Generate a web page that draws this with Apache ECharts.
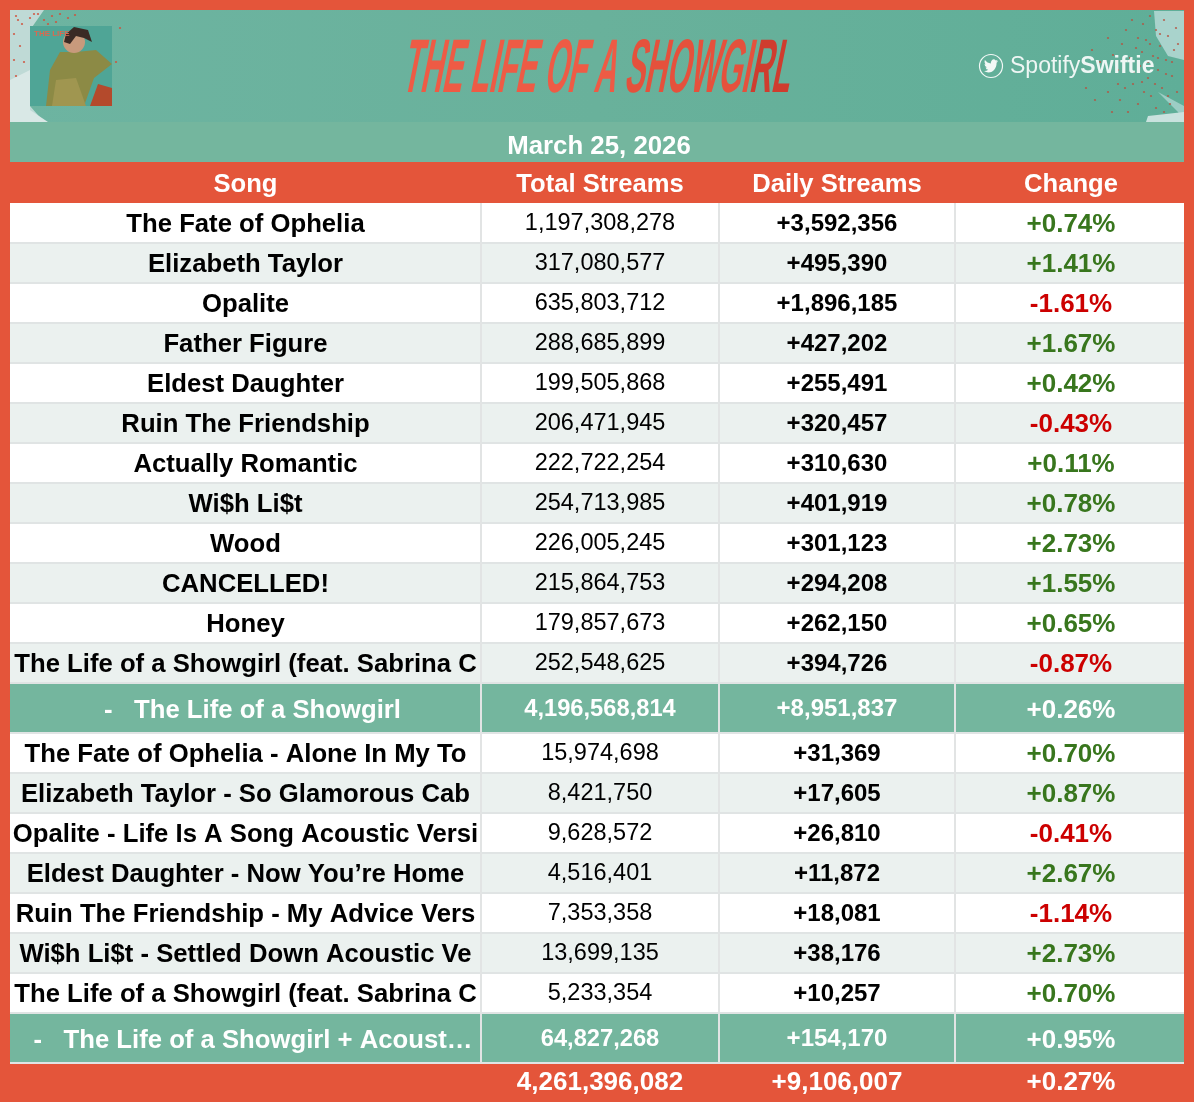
<!DOCTYPE html>
<html><head><meta charset="utf-8">
<style>html,body{margin:0;padding:0;background:#E4553A}#c{width:1194px;height:1102px}</style>
<script src="https://cdn.jsdelivr.net/npm/echarts@6/dist/echarts.min.js"></script>
</head><body><div id="c"></div>
<script>
const dateLabel = 'March 25, 2026';
const columnLabels = ['Song', 'Total Streams', 'Daily Streams', 'Change'];
const albumSongs = ['The Fate of Ophelia','Elizabeth Taylor','Opalite','Father Figure','Eldest Daughter','Ruin The Friendship','Actually Romantic','Wi$h Li$t','Wood','CANCELLED!','Honey','The Life of a Showgirl (feat. Sabrina C'];
const albumTotals = [1197308278,317080577,635803712,288685899,199505868,206471945,222722254,254713985,226005245,215864753,179857673,252548625];
const albumDaily = [3592356,495390,1896185,427202,255491,320457,310630,401919,301123,294208,262150,394726];
const albumChange = [0.74,1.41,-1.61,1.67,0.42,-0.43,0.11,0.78,2.73,1.55,0.65,-0.87];
const albumSummary = ['-   The Life of a Showgirl', 4196568814, 8951837, 0.26];
const acousticSongs = ['The Fate of Ophelia - Alone In My To','Elizabeth Taylor - So Glamorous Cab','Opalite - Life Is A Song Acoustic Versi','Eldest Daughter - Now You\u2019re Home','Ruin The Friendship - My Advice Vers','Wi$h Li$t - Settled Down Acoustic Ve','The Life of a Showgirl (feat. Sabrina C'];
const acousticTotals = [15974698,8421750,9628572,4516401,7353358,13699135,5233354];
const acousticDaily = [31369,17605,26810,11872,18081,38176,10257];
const acousticChange = [0.70,0.87,-0.41,2.67,-1.14,2.73,0.70];
const acousticSummary = ['-   The Life of a Showgirl + Acoust\u2026', 64827268, 154170, 0.95];
const grandSummary = ['', 4261396082, 9106007, 0.27];

const RED='#E4553A', TEAL='#74B69E', FONT='Liberation Sans';
const colEdges=[0,471,709,945,1174];
const fmtN=n=>n.toLocaleString('en-US');
const fmtD=n=>'+'+fmtN(n);
const fmtC=n=>(n>=0?'+':'-')+Math.abs(n).toFixed(2)+'%';

const rows=[]; let yy=0;
function addRow(h,cols){ rows.push({top:yy,h,cols}); yy+=h; }
const txt=(text,font,size,color,dy,dx)=>({text,font,size,color,dy:dy||0,dx:dx||0});
addRow(40,[{span:true,fill:TEAL,...txt(dateLabel,'bold',25.8,'#fff',3,2)}]);
addRow(41,columnLabels.map((l,i)=>txt(l,'bold',25.6,'#fff',1,i===3?1.5:0)));
function songRow(n,t,d,c,alt){
  const fill=alt?'#EBF1EF':'#FFFFFF';
  addRow(40,[
    {fill,line:true,...txt(n,'bold',25.7,'#000')},
    {fill,line:true,...txt(fmtN(t),'normal',23.5,'#000',-1)},
    {fill,line:true,...txt(fmtD(d),'bold',24,'#000')},
    {fill,line:true,...txt(fmtC(c),'bold',26,c>=0?'#38761D':'#CC0000',0,1.5)}
  ]);
}
function sumRow(s,dx){
  addRow(50,[
    {fill:TEAL,line:true,...txt(s[0],'bold',25.7,'#fff',1,dx)},
    {fill:TEAL,line:true,...txt(fmtN(s[1]),'bold',23.7,'#fff',0)},
    {fill:TEAL,line:true,...txt(fmtD(s[2]),'bold',24,'#fff',0)},
    {fill:TEAL,line:true,...txt(fmtC(s[3]),'bold',26,'#fff',1,1.5)}
  ]);
}
albumSongs.forEach((n,i)=>songRow(n,albumTotals[i],albumDaily[i],albumChange[i],i%2===1));
sumRow(albumSummary,7);
acousticSongs.forEach((n,i)=>songRow(n,acousticTotals[i],acousticDaily[i],acousticChange[i],i%2===1));
sumRow(acousticSummary,7.5);
addRow(39,[txt('','bold',26,'#fff'),txt(fmtN(grandSummary[1]),'bold',26,'#fff',-1),txt(fmtD(grandSummary[2]),'bold',26,'#fff',-1),txt(fmtC(grandSummary[3]),'bold',26,'#fff',-1,1.5)]);

const cells=[];
rows.forEach((r,ri)=>r.cols.forEach((c,ci)=>cells.push({ri,ci,c})));

function renderCell(params,api){
  const {ri,ci,c}=cells[params.dataIndex], r=rows[ri];
  const x0=colEdges[c.span?0:ci], x1=colEdges[c.span?4:ci+1];
  const p0=api.coord([x0,r.top]), p1=api.coord([x1,r.top+r.h]);
  const w=p1[0]-p0[0], h=p1[1]-p0[1], kids=[];
  if(c.fill) kids.push({type:'rect',shape:{x:p0[0],y:p0[1],width:w,height:h},style:{fill:c.fill}});
  if(c.line){
    kids.push({type:'rect',shape:{x:p0[0],y:p1[1]-1,width:w,height:2},style:{fill:'#E0E4E4'},z2:2});
    if(ci<3) kids.push({type:'rect',shape:{x:p1[0]-1,y:p0[1],width:2,height:h},style:{fill:'#E2E4E4'},z2:2});
  }
  if(c.text) kids.push({type:'text',z2:3,style:{text:c.text,x:(p0[0]+p1[0])/2+(c.dx||0),y:(p0[1]+p1[1])/2+(c.dy||0)+1.5,align:'center',verticalAlign:'middle',fill:c.color,fontFamily:FONT,fontWeight:c.font,fontSize:c.size}});
  return {type:'group',children:kids};
}
const BIRD='M23.953 4.57 a10 10 0 0 1 -2.825 .775 a4.958 4.958 0 0 0 2.163 -2.723 c-.951.555-2.005.959-3.127 1.184 a4.92 4.92 0 0 0 -8.384 4.482 C7.69 8.095 4.067 6.13 1.64 3.162 a4.822 4.822 0 0 0 -.666 2.475 c0 1.71.87 3.213 2.188 4.096 a4.904 4.904 0 0 1 -2.228 -.616 v.06 a4.923 4.923 0 0 0 3.946 4.827 a4.996 4.996 0 0 1 -2.212 .085 a4.936 4.936 0 0 0 4.604 3.417 a9.867 9.867 0 0 1 -6.102 2.105 c-.39 0-.779-.023-1.17-.067 a13.995 13.995 0 0 0 7.557 2.209 c9.053 0 13.998-7.496 13.998-13.985 0-.21 0-.42-.015-.63 A9.935 9.935 0 0 0 24 4.59z';
function renderBird(){
  return {type:'path',shape:{pathData:BIRD,x:984,y:59.5,width:14,height:13,layout:'cover'},style:{fill:'#F2F8F6'}};
}

const glitterR=[[1092,50],[1100,62],[1108,38],[1113,55],[1118,70],[1122,44],[1126,30],[1130,58],[1133,84],[1136,48],[1140,66],[1143,24],[1146,40],[1148,78],[1151,96],[1153,56],[1156,30],[1158,70],[1160,46],[1162,88],[1164,20],[1166,60],[1168,36],[1170,104],[1172,76],[1174,50],[1176,28],[1177,92],[1120,100],[1128,112],[1138,104],[1144,92],[1156,108],[1164,112],[1108,92],[1095,100],[1086,88],[1150,16],[1132,20],[1112,112],[1142,52],[1148,62],[1138,38],[1150,44],[1158,58],[1166,74],[1172,62],[1178,44],[1134,72],[1125,88],[1142,82],[1155,84],[1168,96],[1118,84],[1160,34]];
const glitterL=[[16,16],[22,24],[30,18],[38,14],[44,20],[52,16],[60,14],[68,18],[75,15],[14,34],[20,46],[14,60],[24,62],[16,76],[18,20],[120,28],[116,62],[34,14],[48,24],[56,22]];
const dots=(list,fill,o)=>list.map(p=>({type:'circle',silent:true,shape:{cx:p[0],cy:p[1],r:1.1},style:{fill,opacity:o}}));
const titleRich=fill=>({fontFamily:FONT,fontWeight:'bold',fontSize:76,fill});

const graphic=[
 {type:'rect',silent:true,shape:{x:10,y:10,width:1174,height:112},style:{fill:{type:'linear',x:0,y:0,x2:1,y2:0,colorStops:[{offset:0,color:'#6DB4A1'},{offset:.5,color:'#69B19B'},{offset:1,color:'#5FAE98'}]}}},
 {type:'polygon',silent:true,shape:{points:[[10,10],[44,10],[30,30],[30,106],[44,122],[10,122]]},style:{fill:'#BFDAD6'}},
 {type:'polygon',silent:true,shape:{points:[[10,80],[30,70],[30,110],[48,122],[10,122]]},style:{fill:'#D9E8E6'}},
 {type:'rect',silent:true,shape:{x:30,y:26,width:82,height:80},style:{fill:'#4FA596'}},
 {type:'polygon',silent:true,shape:{points:[[46,106],[50,70],[60,52],[76,52],[96,50],[112,64],[94,78],[84,106]]},style:{fill:'#8C8A45'}},
 {type:'polygon',silent:true,shape:{points:[[52,106],[56,80],[76,78],[86,106]]},style:{fill:'#A09650'}},
 {type:'circle',silent:true,shape:{cx:74,cy:42,r:11},style:{fill:'#C89A7C'}},
 {type:'polygon',silent:true,shape:{points:[[66,34],[74,27],[88,30],[92,42],[84,38],[76,36],[70,44],[64,42]]},style:{fill:'#3A2A24'}},
 {type:'polygon',silent:true,shape:{points:[[90,106],[112,106],[112,88],[98,84]]},style:{fill:'#B44A2C'}},
 {type:'text',silent:true,style:{x:34,y:30,text:'THE LIFE',fill:'#D96A50',fontFamily:FONT,fontWeight:'bold',fontSize:8}},
 {type:'polygon',silent:true,shape:{points:[[1154,11],[1184,11],[1184,60],[1168,56],[1156,36]]},style:{fill:'#A9D3CC'}},
 {type:'polygon',silent:true,shape:{points:[[1158,92],[1184,106],[1184,122],[1178,112]]},style:{fill:'#9CCDC5'}},
 {type:'polygon',silent:true,shape:{points:[[1148,116],[1184,112],[1184,122],[1146,122]]},style:{fill:'#C9E2DE'}},
 ...dots(glitterR,'#B5523F',.85),
 ...dots(glitterL,'#D0503A',.9),
 {type:'text',silent:true,x:599,y:71,scaleX:.396,scaleY:1,skewX:-.2,
  style:{text:'{a|THE LIFE OF A }{b|SHOWGI}{c|RL}',align:'center',verticalAlign:'middle',
   rich:{a:titleRich('#EE5B45'),b:titleRich('#E5513C'),c:titleRich('#CF3C2E')}}},
 {type:'circle',silent:true,shape:{cx:991,cy:66,r:11.5},style:{fill:'none',stroke:'#F2F8F6',lineWidth:1.2}},
 {type:'text',silent:true,style:{x:1010,y:67,verticalAlign:'middle',text:'{a|Spotify}{b|Swiftie}',rich:{a:{fontFamily:FONT,fontSize:23,fill:'#EEF6F4'},b:{fontFamily:FONT,fontWeight:'bold',fontSize:23,fill:'#EEF6F4'}}}}
];

const chart=echarts.init(document.getElementById('c'),null,{width:1194,height:1102});
chart.setOption({
  animation:false,
  backgroundColor:RED,
  textStyle:{fontFamily:FONT},
  graphic,
  grid:{left:10,top:122,width:1174,height:980},
  xAxis:{type:'value',min:0,max:1174,show:false},
  yAxis:{type:'value',min:0,max:980,inverse:true,show:false},
  tooltip:{show:false},
  series:[
   {type:'custom',silent:true,clip:false,coordinateSystem:'cartesian2d',renderItem:renderCell,
    data:cells.map(c=>[colEdges[c.ci],rows[c.ri].top])},
   {type:'custom',silent:true,clip:false,z:200,coordinateSystem:'none',renderItem:renderBird,data:[[0]]}
  ]
});
</script></body></html>
